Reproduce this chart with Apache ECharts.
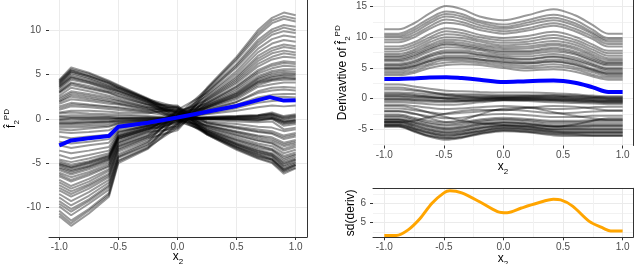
<!DOCTYPE html>
<html><head><meta charset="utf-8">
<script src="https://cdn.jsdelivr.net/npm/echarts@6/dist/echarts.min.js"></script>
<style>html,body{margin:0;padding:0;background:#fff}#c{width:636px;height:264px}</style>
</head><body><div id="c"></div>
<script>
// ---------- left panel: ICE curves of f2 ----------
const xIce = [-1, -0.9, -0.75, -0.58, -0.5, -0.25, 0, 0.25, 0.5, 0.68, 0.8, 0.9, 1];
const iceRising = [
  [-4.1, -4.5, -4.1, -3.6, -1.6, -0.7, 0.5, 1.0, 1.9, 3.1, 3.5, 3.6, 3.5],
  [-4.6, -4.9, -4.5, -3.9, -1.8, -0.8, -0.3, 1.1, 2.2, 3.6, 3.9, 4.1, 4.1],
  [-4.8, -5.2, -4.8, -4.1, -1.9, -0.9, 0.8, 1.2, 2.4, 3.8, 4.3, 4.4, 4.4],
  [-5.0, -5.4, -4.9, -4.2, -2.0, -1.0, 0.1, 1.3, 2.5, 4.0, 4.4, 4.6, 4.5],
  [-5.1, -5.5, -5.0, -4.3, -2.0, -1.0, -0.6, 1.3, 2.6, 4.1, 4.5, 4.7, 4.6],
  [-5.2, -5.6, -5.1, -4.4, -2.1, -1.1, 0.4, 1.3, 2.7, 4.2, 4.7, 4.9, 4.8],
  [-5.3, -5.8, -5.3, -4.5, -2.2, -1.1, -0.9, 1.4, 2.8, 4.3, 4.8, 5.0, 5.0],
  [-5.5, -5.9, -5.4, -4.6, -2.2, -1.2, 0.6, 1.5, 2.9, 4.5, 5.0, 5.2, 5.1],
  [-5.6, -6.1, -5.5, -4.7, -2.3, -1.2, 0.0, 1.5, 3.0, 4.6, 5.2, 5.4, 5.3],
  [-5.8, -6.3, -5.7, -4.9, -2.4, -1.3, -0.4, 1.6, 3.2, 4.8, 5.4, 5.6, 5.6],
  [-6.1, -6.6, -6.0, -5.1, -2.6, -1.4, 0.9, 1.7, 3.4, 5.1, 5.7, 6.0, 5.9],
  [-6.3, -6.9, -6.2, -5.3, -2.7, -1.5, -1.1, 1.8, 3.6, 5.3, 6.0, 6.3, 6.2],
  [-6.5, -7.1, -6.4, -5.4, -2.8, -1.6, 0.3, 1.8, 3.7, 5.5, 6.2, 6.5, 6.4],
  [-6.9, -7.6, -6.8, -5.7, -3.0, -1.8, -0.2, 2.0, 4.0, 5.9, 6.7, 7.0, 6.9],
  [-7.2, -7.9, -7.1, -5.9, -3.1, -1.9, 0.7, 2.1, 4.2, 6.2, 7.0, 7.4, 7.2],
  [-7.5, -8.2, -7.4, -6.2, -3.2, -2.0, -0.7, 2.2, 4.4, 6.5, 7.4, 7.7, 7.5],
  [-7.8, -8.5, -7.6, -6.4, -3.4, -2.1, 0.2, 2.3, 4.6, 6.8, 7.7, 8.1, 7.9],
  [-8.1, -8.8, -7.9, -6.6, -3.5, -2.2, -1.3, 2.4, 4.8, 7.1, 8.0, 8.4, 8.2],
  [-8.5, -9.3, -8.3, -6.9, -3.7, -2.4, 0.5, 2.6, 5.1, 7.5, 8.5, 8.9, 8.7],
  [-8.9, -9.8, -8.7, -7.2, -4.0, -2.6, -0.5, 2.7, 5.4, 7.9, 9.0, 9.4, 9.2],
  [-9.3, -10.2, -9.1, -7.5, -4.2, -2.7, 1.0, 2.9, 5.8, 8.3, 9.5, 9.9, 9.7],
  [-9.6, -10.5, -9.3, -7.7, -4.3, -2.9, -0.8, 3.0, 6.0, 8.6, 9.8, 10.3, 10.0],
  [-9.9, -10.9, -9.6, -8.0, -4.4, -3.0, 0.1, 3.1, 6.2, 8.9, 10.1, 10.6, 10.4],
  [-10.4, -11.5, -10.2, -8.4, -4.7, -3.2, -1.0, 3.3, 6.6, 9.4, 10.8, 11.3, 11.0],
  [-10.7, -11.8, -10.4, -8.6, -4.8, -3.3, 0.4, 3.4, 6.8, 9.7, 11.1, 11.6, 11.3],
  [-11.0, -12.1, -10.7, -8.8, -5.0, -3.4, -0.6, 3.5, 7.0, 10.0, 11.4, 12.0, 11.7]
];
const iceShallow = [
  [-2.0, -2.2, -2.0, -1.8, -1.0, -0.5, 0.1, 0.6, 1.2, 1.8, 2.0, 2.1, 2.1],
  [-3.0, -3.3, -3.0, -2.7, -1.4, -0.8, -0.4, 0.8, 1.6, 2.4, 2.7, 2.8, 2.8],
  [-3.6, -3.9, -3.6, -3.2, -1.5, -0.8, 0.3, 0.9, 1.9, 2.9, 3.2, 3.3, 3.2],
  [-1.5, -1.6, -1.5, -1.3, -0.8, -0.4, 0.0, 0.5, 0.9, 1.3, 1.5, 1.4, 1.5],
  [-2.6, -2.8, -2.6, -2.3, -1.2, -0.6, -0.2, 0.7, 1.4, 2.1, 2.4, 2.5, 2.4]
];
const iceFalling = [
  [0.7, 0.9, 0.9, 0.8, 0.7, 0.6, 1.2, -0.3, -0.6, -0.9, -1.0, -1.4, -1.2],
  [1.0, 1.4, 1.3, 1.1, 1.0, 0.7, 0.2, -0.4, -0.9, -1.2, -1.4, -1.9, -1.6],
  [1.2, 1.6, 1.5, 1.3, 1.2, 0.8, 0.9, -0.5, -1.0, -1.4, -1.6, -2.1, -1.8],
  [1.4, 1.8, 1.6, 1.4, 1.3, 0.9, 1.4, -0.5, -1.1, -1.5, -1.7, -2.3, -2.0],
  [1.7, 2.2, 2.0, 1.7, 1.6, 1.0, 0.3, -0.7, -1.4, -1.9, -2.1, -2.7, -2.4],
  [1.9, 2.5, 2.2, 1.9, 1.7, 1.1, 1.0, -0.8, -1.5, -2.0, -2.3, -2.9, -2.6],
  [2.0, 2.7, 2.4, 2.0, 1.8, 1.2, -0.2, -0.8, -1.6, -2.2, -2.5, -3.1, -2.8],
  [2.2, 2.9, 2.6, 2.2, 2.0, 1.3, 0.7, -0.9, -1.8, -2.4, -2.7, -3.4, -3.0],
  [2.4, 3.1, 2.8, 2.4, 2.1, 1.3, 1.3, -1.0, -1.9, -2.5, -2.8, -3.6, -3.2],
  [2.6, 3.5, 3.1, 2.6, 2.3, 1.5, 0.0, -1.1, -2.1, -2.8, -3.1, -3.9, -3.5],
  [2.9, 3.8, 3.4, 2.9, 2.5, 1.6, 0.8, -1.2, -2.3, -3.0, -3.4, -4.2, -3.8],
  [3.0, 4.0, 3.5, 3.0, 2.6, 1.6, 1.5, -1.3, -2.4, -3.1, -3.5, -4.4, -4.0],
  [3.1, 4.1, 3.7, 3.1, 2.8, 1.7, 0.4, -1.3, -2.5, -3.3, -3.6, -4.6, -4.1],
  [3.3, 4.4, 4.0, 3.3, 2.9, 1.8, -0.3, -1.4, -2.7, -3.5, -3.9, -4.8, -4.3],
  [3.5, 4.6, 4.1, 3.4, 3.1, 1.9, 1.1, -1.4, -2.8, -3.6, -4.0, -5.0, -4.5],
  [3.6, 4.7, 4.2, 3.5, 3.1, 1.9, 0.6, -1.5, -2.9, -3.7, -4.1, -5.1, -4.6],
  [3.7, 4.8, 4.3, 3.6, 3.2, 2.0, 0.1, -1.5, -2.9, -3.8, -4.2, -5.3, -4.7],
  [3.8, 5.0, 4.5, 3.7, 3.3, 2.0, 1.2, -1.6, -3.0, -3.9, -4.3, -5.4, -4.9],
  [3.9, 5.2, 4.6, 3.8, 3.4, 2.1, -0.1, -1.6, -3.1, -4.0, -4.5, -5.6, -5.0],
  [4.0, 5.3, 4.8, 4.0, 3.5, 2.1, 0.9, -1.7, -3.2, -4.1, -4.6, -5.7, -5.2],
  [4.1, 5.4, 4.8, 4.0, 3.5, 2.2, 0.5, -1.7, -3.2, -4.2, -4.6, -5.8, -5.2],
  [4.2, 5.5, 4.9, 4.1, 3.6, 2.2, 1.3, -1.7, -3.3, -4.3, -4.7, -5.9, -5.3],
  [4.3, 5.6, 5.1, 4.2, 3.7, 2.2, 0.2, -1.8, -3.4, -4.4, -4.9, -6.0, -5.5],
  [4.4, 5.8, 5.2, 4.3, 3.8, 2.3, 0.7, -1.8, -3.5, -4.5, -5.0, -6.2, -5.6]
];
const iceFlat = [
  [0.6, 0.7, 0.6, 0.5, 0.5, 0.3, 0.1, -0.1, -0.3, -0.4, -0.3, -1.2, -1.0],
  [0.3, 0.4, 0.4, 0.3, 0.3, 0.2, 0.1, 0.0, -0.1, -0.2, 0.0, -0.8, -0.6],
  [0.0, 0.1, 0.1, 0.1, 0.1, 0.1, 0.1, 0.1, 0.1, 0.1, 0.3, -0.3, -0.2],
  [-0.2, -0.2, -0.1, -0.1, 0.0, 0.0, 0.1, 0.1, 0.2, 0.3, 0.5, 0.0, 0.2],
  [-0.4, -0.4, -0.3, -0.3, -0.2, -0.1, 0.0, 0.2, 0.3, 0.4, 0.6, 0.2, 0.4],
  [-0.6, -0.6, -0.5, -0.4, -0.3, -0.2, 0.0, 0.2, 0.3, 0.4, 0.7, 0.3, 0.5],
  [-0.8, -0.8, -0.7, -0.6, -0.4, -0.2, 0.0, 0.1, 0.2, 0.3, 0.5, 0.1, 0.3],
  [-1.0, -1.0, -0.9, -0.8, -0.5, -0.3, -0.1, 0.0, 0.0, 0.1, 0.2, -0.3, -0.1],
  [-1.2, -1.3, -1.1, -0.9, -0.6, -0.3, 0.0, 0.0, -0.1, -0.2, 0.0, -0.6, -0.4],
  [-0.1, 0.0, 0.0, 0.0, 0.0, 0.0, 0.0, 0.0, 0.0, 0.0, 0.1, -0.4, -0.2],
  [-0.5, -0.5, -0.4, -0.3, -0.2, -0.1, 0.0, 0.1, 0.2, 0.2, 0.4, -0.1, 0.1],
  [0.2, 0.2, 0.2, 0.2, 0.1, 0.1, 0.1, 0.0, 0.0, -0.1, 0.1, -0.5, -0.4]
];
const xPdMean = [-1, -0.9, -0.75, -0.58, -0.5, -0.25, 0, 0.25, 0.5, 0.68, 0.78, 0.9, 1];
const pdMean = [-3.0, -2.45, -2.2, -1.95, -0.9, -0.45, 0.15, 0.8, 1.45, 2.1, 2.45, 2.05, 2.1];

// ---------- right top: derivative curves ----------
const xDeriv = [-1, -0.88, -0.75, -0.62, -0.48, -0.35, -0.2, 0, 0.2, 0.42, 0.6, 0.75, 0.88, 1];
const derivPos = [
  [3.8, 3.8, 4.2, 5.0, 5.5, 5.6, 5.5, 5.0, 4.6, 4.8, 4.4, 3.6, 3.1, 3.1],
  [4.1, 4.1, 4.5, 5.4, 5.9, 6.0, 5.8, 5.3, 5.0, 5.2, 4.8, 3.9, 3.4, 3.4],
  [4.4, 4.4, 4.9, 5.7, 6.3, 6.3, 6.1, 5.6, 5.3, 5.6, 5.1, 4.3, 3.7, 3.7],
  [4.7, 4.7, 5.2, 6.1, 6.7, 6.7, 6.4, 5.9, 5.7, 6.0, 5.5, 4.6, 4.0, 4.0],
  [4.9, 4.9, 5.3, 6.1, 6.6, 6.6, 6.4, 6.0, 5.8, 6.1, 5.6, 4.7, 4.1, 4.1],
  [5.0, 5.0, 5.5, 6.4, 7.0, 7.0, 6.8, 6.3, 6.0, 6.4, 5.9, 4.9, 4.3, 4.3],
  [5.3, 5.3, 5.8, 6.8, 7.4, 7.4, 7.1, 6.6, 6.4, 6.8, 6.2, 5.3, 4.6, 4.6],
  [5.5, 5.5, 6.0, 7.0, 7.6, 7.6, 7.2, 6.7, 6.5, 6.9, 6.4, 5.5, 4.8, 4.8],
  [5.7, 5.7, 6.2, 7.2, 7.9, 7.9, 7.5, 7.0, 6.9, 7.3, 6.7, 5.7, 5.0, 5.0],
  [6.1, 6.1, 6.6, 7.7, 8.4, 8.3, 7.9, 7.3, 7.3, 7.7, 7.2, 6.1, 5.4, 5.4],
  [6.3, 6.3, 6.9, 8.0, 8.8, 8.6, 8.1, 7.6, 7.6, 8.0, 7.4, 6.3, 5.6, 5.6],
  [6.5, 6.5, 7.1, 8.2, 9.0, 8.8, 8.3, 7.8, 7.8, 8.3, 7.7, 6.6, 5.8, 5.8],
  [6.8, 6.8, 7.4, 8.5, 9.3, 9.1, 8.6, 8.1, 8.2, 8.7, 8.1, 6.9, 6.0, 6.0],
  [7.0, 7.0, 7.7, 8.8, 9.6, 9.5, 8.9, 8.4, 8.5, 9.0, 8.4, 7.2, 6.3, 6.3],
  [7.3, 7.3, 8.0, 9.2, 10.0, 9.9, 9.3, 8.7, 8.9, 9.4, 8.8, 7.6, 6.6, 6.6],
  [7.7, 7.7, 8.4, 9.6, 10.5, 10.3, 9.6, 9.1, 9.3, 9.9, 9.2, 8.0, 7.0, 7.0],
  [8.1, 8.1, 8.8, 10.0, 11.0, 10.7, 10.0, 9.5, 9.7, 10.4, 9.6, 8.4, 7.4, 7.4],
  [8.5, 8.5, 9.2, 10.5, 11.5, 11.2, 10.4, 9.9, 10.2, 10.9, 10.1, 8.8, 7.8, 7.8],
  [9.2, 9.2, 10.0, 11.4, 12.4, 12.1, 11.2, 10.6, 11.1, 11.9, 11.0, 9.7, 8.5, 8.5],
  [9.6, 9.6, 10.4, 11.8, 12.9, 12.5, 11.6, 11.0, 11.5, 12.3, 11.4, 10.1, 8.9, 8.9],
  [10.0, 10.0, 10.8, 12.3, 13.4, 13.0, 12.0, 11.4, 12.0, 12.8, 11.9, 10.5, 9.3, 9.3],
  [10.3, 10.3, 11.2, 12.7, 13.8, 13.4, 12.4, 11.7, 12.4, 13.2, 12.3, 10.8, 9.6, 9.6],
  [10.6, 10.6, 11.6, 13.1, 14.2, 13.8, 12.7, 12.1, 12.8, 13.7, 12.8, 11.2, 9.9, 9.9],
  [11.3, 11.3, 12.3, 13.9, 15.1, 14.6, 13.4, 12.8, 13.6, 14.6, 13.6, 12.0, 10.6, 10.6]
];
const derivFlat = [
  [2.3, 2.3, 2.0, 1.6, 1.3, 1.2, 1.1, 1.0, 1.0, 0.9, 0.7, 0.5, 0.4, 0.4],
  [1.5, 1.5, 1.3, 1.0, 0.8, 0.7, 0.7, 0.6, 0.6, 0.5, 0.4, 0.3, 0.2, 0.2],
  [1.0, 1.0, 0.9, 0.7, 0.6, 0.5, 0.5, 0.4, 0.4, 0.3, 0.2, 0.1, 0.0, 0.0],
  [0.6, 0.6, 0.5, 0.4, 0.3, 0.3, 0.2, 0.2, 0.2, 0.1, 0.0, -0.1, -0.2, -0.2],
  [0.4, 0.4, 0.3, 0.2, 0.1, 0.1, 0.1, 0.1, 0.1, 0.0, -0.1, -0.2, -0.3, -0.3],
  [0.3, 0.3, 0.2, 0.1, 0.0, 0.0, 0.0, 0.0, 0.0, -0.1, -0.2, -0.3, -0.4, -0.4],
  [0.0, 0.0, -0.1, -0.2, -0.3, -0.3, -0.2, -0.1, -0.1, -0.2, -0.3, -0.4, -0.5, -0.5],
  [-0.1, -0.1, -0.2, -0.3, -0.4, -0.4, -0.3, -0.2, -0.2, -0.3, -0.4, -0.5, -0.6, -0.6],
  [-0.3, -0.3, -0.4, -0.5, -0.6, -0.5, -0.4, -0.2, -0.2, -0.3, -0.5, -0.6, -0.7, -0.7],
  [-0.6, -0.6, -0.7, -0.9, -1.0, -0.9, -0.6, -0.3, -0.4, -0.6, -0.7, -0.8, -0.9, -0.9],
  [1.8, 1.8, 1.5, 1.1, 0.6, 0.4, 0.3, 0.3, 0.4, 0.6, 0.5, 0.3, 0.2, 0.2],
  [0.8, 0.8, 0.6, 0.3, 0.0, -0.2, -0.1, 0.1, 0.2, 0.3, 0.2, 0.1, 0.0, 0.0]
];
const derivNeg = [
  [-4.6, -4.6, -5.4, -6.2, -6.7, -6.4, -5.8, -5.3, -5.5, -6.0, -6.1, -6.1, -6.1, -6.1],
  [-4.5, -4.5, -5.3, -6.1, -6.5, -6.3, -5.7, -5.2, -5.4, -5.8, -5.9, -6.0, -6.0, -6.0],
  [-4.4, -4.4, -5.2, -6.0, -6.4, -6.2, -5.6, -5.1, -5.3, -5.7, -5.8, -5.9, -5.9, -5.9],
  [-4.3, -4.3, -5.0, -5.7, -6.2, -5.9, -5.4, -4.9, -5.1, -5.5, -5.6, -5.6, -5.6, -5.6],
  [-4.2, -4.2, -4.9, -5.6, -6.0, -5.8, -5.3, -4.8, -5.0, -5.4, -5.5, -5.5, -5.5, -5.5],
  [-4.1, -4.1, -4.8, -5.5, -5.9, -5.7, -5.2, -4.7, -4.9, -5.3, -5.4, -5.4, -5.4, -5.4],
  [-3.9, -3.9, -4.6, -5.3, -5.7, -5.5, -4.9, -4.5, -4.7, -5.1, -5.2, -5.2, -5.2, -5.2],
  [-3.8, -3.8, -4.4, -5.1, -5.5, -5.3, -4.8, -4.4, -4.6, -5.0, -5.0, -5.0, -5.0, -5.0],
  [-3.7, -3.7, -4.3, -5.0, -5.4, -5.2, -4.7, -4.3, -4.5, -4.9, -4.9, -4.9, -4.9, -4.9],
  [-3.5, -3.5, -4.1, -4.7, -5.1, -4.9, -4.4, -4.0, -4.2, -4.6, -4.7, -4.6, -4.6, -4.6],
  [-3.4, -3.4, -3.9, -4.5, -4.9, -4.7, -4.2, -3.9, -4.1, -4.5, -4.5, -4.4, -4.4, -4.4],
  [-3.3, -3.3, -3.8, -4.4, -4.8, -4.6, -4.1, -3.8, -4.0, -4.4, -4.4, -4.3, -4.3, -4.3],
  [-3.0, -3.0, -3.5, -4.1, -4.4, -4.3, -3.8, -3.5, -3.7, -4.1, -4.1, -4.0, -4.0, -4.0],
  [-2.8, -2.8, -3.3, -3.9, -4.2, -4.0, -3.6, -3.3, -3.5, -3.8, -3.8, -3.7, -3.7, -3.7],
  [-2.6, -2.6, -3.1, -3.6, -3.9, -3.8, -3.4, -3.1, -3.3, -3.6, -3.6, -3.5, -3.5, -3.5],
  [-2.1, -2.1, -2.5, -2.9, -3.2, -3.1, -2.7, -2.5, -2.7, -3.0, -3.0, -2.8, -2.8, -2.8],
  [-1.6, -1.6, -1.9, -2.2, -2.5, -2.3, -2.1, -1.8, -2.0, -2.4, -2.3, -2.1, -2.0, -2.0],
  [-1.0, -1.0, -1.2, -1.5, -1.7, -1.6, -1.4, -1.2, -1.4, -1.7, -1.6, -1.4, -1.3, -1.3]
];
const derivCross = [
  [-1.2, -1.2, -1.6, -2.3, -3.0, -3.6, -4.0, -4.3, -4.4, -4.6, -4.2, -3.6, -3.2, -3.2],
  [-3.8, -3.8, -3.6, -3.0, -2.4, -2.0, -1.8, -1.9, -1.5, -1.2, -1.3, -1.6, -1.9, -1.9],
  [-2.0, -2.0, -2.4, -3.2, -3.8, -3.5, -2.6, -1.6, -1.5, -2.2, -2.8, -3.2, -3.4, -3.4]
];
const derivMean = [3.2, 3.2, 3.3, 3.45, 3.5, 3.35, 3.1, 2.7, 2.85, 2.95, 2.6, 1.85, 1.1, 1.1];

// ---------- right bottom: sd of derivative ----------
const xSd = [-1, -0.9, -0.8, -0.7, -0.6, -0.5, -0.45, -0.35, -0.2, -0.05, 0.03, 0.15, 0.28, 0.42, 0.48, 0.58, 0.72, 0.84, 0.9, 1];
const sdDeriv = [4.3, 4.3, 4.6, 5.2, 6.0, 6.55, 6.66, 6.55, 6.08, 5.56, 5.5, 5.75, 6.0, 6.21, 6.18, 5.85, 5.05, 4.68, 4.54, 4.54];

// ---------- ticks ----------
const ticksX = [-1, -0.5, 0, 0.5, 1];
const ticksXMinor = [-0.75, -0.25, 0.25, 0.75];
const ticksYIce = [-10, -5, 0, 5, 10];
const ticksYDeriv = [-5, 0, 5, 10, 15];
const ticksYDerivMinor = [-7.5, -2.5, 2.5, 7.5, 12.5];
const ticksYSd = [5, 6];
const ticksYSdMinor = [4.5, 5.5, 6.5];

const FONT = '"Liberation Sans", Arial, sans-serif';
const GRIDC = '#ebebeb', MINORC = '#f2f2f2', INK = '#333333', LAB = '#4d4d4d';
const zip = (xs, ys) => xs.map((x, i) => [x, ys[i]]);

const richT = {
  t:   {fontSize: 12, fontFamily: FONT, color: '#000', lineHeight: 18, verticalAlign: 'middle'},
  f:   {fontSize: 12, fontFamily: FONT, color: '#000', lineHeight: 18, verticalAlign: 'middle'},
  sub: {fontSize: 8,  fontFamily: FONT, color: '#000', lineHeight: 9, verticalAlign: 'bottom'},
  sup: {fontSize: 8,  fontFamily: FONT, color: '#000', lineHeight: 9, verticalAlign: 'top'}
};
const xName = '{f|x}{sub|2}';
const fName = '{f|f\u0302}{sub|2}{sup|PD}';

function mainX(grid, min, max, line, gap) {
  return {
    type: 'value', gridIndex: grid, position: 'bottom', min, max,
    axisLine: {show: line, onZero: false, lineStyle: {color: INK, width: 1}},
    axisTick: {show: true, length: 3, lineStyle: {color: INK}, customValues: ticksX},
    axisLabel: {show: true, customValues: ticksX, margin: 5, color: LAB, fontSize: 10, fontFamily: FONT,
      formatter: v => v.toFixed(1)},
    splitLine: {show: true, lineStyle: {color: GRIDC, width: 1}},
    name: xName, nameLocation: 'middle', nameGap: gap, nameMoveOverlap: false,
    nameTextStyle: {rich: richT}
  };
}
function minorX(grid, min, max, line) {
  return {
    type: 'value', gridIndex: grid, position: 'top', min, max,
    axisLine: {show: line, onZero: false, lineStyle: {color: INK, width: 1}},
    axisTick: {show: false, customValues: ticksXMinor},
    axisLabel: {show: false},
    splitLine: {show: true, lineStyle: {color: MINORC, width: 1}}
  };
}
function mainY(grid, min, max, ticks, name, gap, margin) {
  return {
    type: 'value', gridIndex: grid, position: 'left', min, max,
    axisLine: {show: false, onZero: false},
    axisTick: {show: true, length: 3, lineStyle: {color: INK}, customValues: ticks},
    axisLabel: {show: true, customValues: ticks, margin, color: LAB, fontSize: 10, fontFamily: FONT},
    splitLine: {show: true, lineStyle: {color: GRIDC, width: 1}},
    name, nameLocation: 'middle', nameGap: gap, nameMoveOverlap: false,
    nameTextStyle: {rich: richT}
  };
}
function sideY(grid, min, max, minor) {
  return {
    type: 'value', gridIndex: grid, position: 'right', min, max,
    axisLine: {show: true, onZero: false, lineStyle: {color: INK, width: 1}},
    axisTick: minor ? {show: false, customValues: minor} : {show: false},
    axisLabel: {show: false},
    splitLine: {show: !!minor, lineStyle: {color: MINORC, width: 1}}
  };
}

const X0 = [-1.087, 1.096], X1 = [-1.095, 1.087];
const Y0 = [-13.36, 13.42], Y1 = [-7.64, 16.09], Y2 = [4.21, 6.79];

const xAxis = [
  mainX(0, X0[0], X0[1], true, 11),
  mainX(1, X1[0], X1[1], false, 12),
  minorX(1, X1[0], X1[1], false),
  mainX(2, X1[0], X1[1], true, 12),
  minorX(2, X1[0], X1[1], true)
];
const yAxis = [
  mainY(0, Y0[0], Y0[1], ticksYIce, fName, 28, 8),
  sideY(0, Y0[0], Y0[1], null),
  mainY(1, Y1[0], Y1[1], ticksYDeriv, '{t|Derivavtive of }' + fName, 21, 6),
  sideY(1, Y1[0], Y1[1], ticksYDerivMinor),
  mainY(2, Y2[0], Y2[1], ticksYSd, '{t|sd(deriv)}', 13, 7),
  sideY(2, Y2[0], Y2[1], ticksYSdMinor)
];

const series = [];
const thin = {color: '#000', width: 2, opacity: 0.4};
function addGroup(group, xs, xi, yi, smooth) {
  group.forEach(ys => series.push({
    type: 'line', xAxisIndex: xi, yAxisIndex: yi, data: zip(xs, ys),
    showSymbol: false, symbol: 'none', smooth: smooth, silent: true,
    lineStyle: thin, z: 2
  }));
}
addGroup(iceFlat, xIce, 0, 0, false);
addGroup(iceShallow, xIce, 0, 0, false);
addGroup(iceRising, xIce, 0, 0, false);
addGroup(iceFalling, xIce, 0, 0, false);
addGroup(derivFlat, xDeriv, 1, 2, 0.35);
addGroup(derivCross, xDeriv, 1, 2, 0.35);
addGroup(derivPos, xDeriv, 1, 2, 0.35);
addGroup(derivNeg, xDeriv, 1, 2, 0.35);
series.push({type: 'line', xAxisIndex: 0, yAxisIndex: 0, data: zip(xPdMean, pdMean),
  showSymbol: false, symbol: 'none', silent: true, z: 5, lineStyle: {color: '#0000ff', width: 4}});
series.push({type: 'line', xAxisIndex: 1, yAxisIndex: 2, data: zip(xDeriv, derivMean),
  showSymbol: false, symbol: 'none', smooth: 0.35, silent: true, z: 5, lineStyle: {color: '#0000ff', width: 4}});
series.push({type: 'line', xAxisIndex: 3, yAxisIndex: 4, data: zip(xSd, sdDeriv),
  showSymbol: false, symbol: 'none', smooth: 0.3, silent: true, z: 5, lineStyle: {color: '#ffa500', width: 3}});

const chart = echarts.init(document.getElementById('c'), null, {renderer: 'canvas'});
chart.setOption({
  animation: false,
  backgroundColor: '#ffffff',
  grid: [
    {left: 49, top: 0, width: 258, height: 237, containLabel: false, outerBoundsMode: 'none'},
    {left: 373, top: 0, width: 260, height: 145.5, containLabel: false, outerBoundsMode: 'none'},
    {left: 373, top: 188.3, width: 260, height: 49, containLabel: false, outerBoundsMode: 'none'}
  ],
  xAxis, yAxis, series
});
</script></body></html>
